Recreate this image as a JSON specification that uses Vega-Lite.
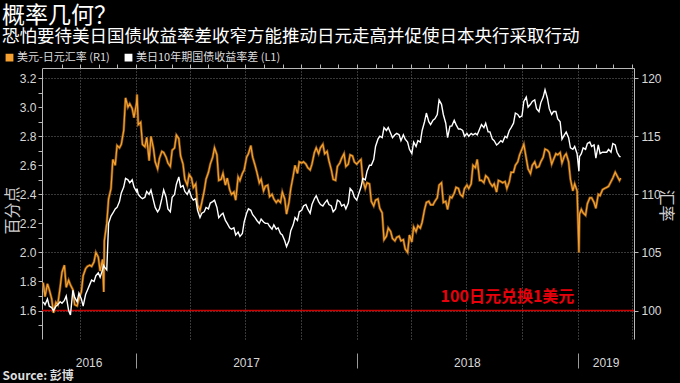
{
"$schema": "https://vega.github.io/schema/vega-lite/v6.json",
"width": 592, "height": 271,
"autosize": "none",
"padding": {"left": 42, "top": 68, "right": 46, "bottom": 44},
"background": "#000000",
"config": {"view": {"stroke": null}, "font": "Noto Sans CJK SC",
  "axis": {"labelFont": "Liberation Sans", "labelFontSize": 12, "labelColor": "#d8d8d8", "domainColor": "#b8b8b8", "tickColor": "#b8b8b8", "titleFont": "Noto Sans CJK SC", "titleColor": "#cfcfcf", "titleFontWeight": "normal"}},
"title": {"text": "概率几何？", "subtitle": "恐怕要待美日国债收益率差收窄方能推动日元走高并促使日本央行采取行动", "anchor": "start", "frame": "group", "dx": -40, "offset": 7, "color": "#ffffff", "subtitleColor": "#ffffff", "fontSize": 23, "subtitleFontSize": 17.5, "font": "Noto Sans CJK SC", "subtitleFont": "Noto Sans CJK SC", "fontWeight": "normal", "subtitleFontWeight": "normal", "subtitlePadding": 0},
"data": {"values": [
{"d":"2016-08-01","s":1.66,"r":102.4},{"d":"2016-08-04","s":1.64,"r":101.2},{"d":"2016-08-08","s":1.68,"r":102.3},{"d":"2016-08-11","s":1.63,"r":101.8},
{"d":"2016-08-15","s":1.62,"r":101.0},{"d":"2016-08-18","s":1.6,"r":99.8},{"d":"2016-08-22","s":1.63,"r":100.7},{"d":"2016-08-25","s":1.64,"r":100.5},
{"d":"2016-08-29","s":1.66,"r":102.0},{"d":"2016-09-01","s":1.65,"r":103.3},{"d":"2016-09-05","s":1.67,"r":103.9},{"d":"2016-09-08","s":1.7,"r":102.0},
{"d":"2016-09-12","s":1.6,"r":102.6},{"d":"2016-09-15","s":1.57,"r":102.2},{"d":"2016-09-19","s":1.74,"r":101.8},{"d":"2016-09-22","s":1.69,"r":100.5},
{"d":"2016-09-26","s":1.66,"r":100.4},{"d":"2016-09-29","s":1.72,"r":101.0},{"d":"2016-10-03","s":1.68,"r":101.6},{"d":"2016-10-06","s":1.63,"r":103.0},
{"d":"2016-10-10","s":1.71,"r":103.6},{"d":"2016-10-13","s":1.74,"r":103.8},{"d":"2016-10-17","s":1.78,"r":103.9},{"d":"2016-10-20","s":1.81,"r":103.8},
{"d":"2016-10-24","s":1.8,"r":104.2},{"d":"2016-10-27","s":1.84,"r":105.0},{"d":"2016-10-31","s":1.86,"r":104.6},{"d":"2016-11-03","s":1.83,"r":103.4},
{"d":"2016-11-07","s":1.88,"r":104.4},{"d":"2016-11-09","s":1.91,"r":101.6},{"d":"2016-11-10","s":1.9,"r":106.0},{"d":"2016-11-14","s":1.88,"r":107.5},
{"d":"2016-11-17","s":2.2,"r":109.6},{"d":"2016-11-21","s":2.25,"r":110.5},{"d":"2016-11-24","s":2.27,"r":113.0},{"d":"2016-11-28","s":2.3,"r":112.5},
{"d":"2016-12-01","s":2.31,"r":114.2},{"d":"2016-12-05","s":2.35,"r":114.0},{"d":"2016-12-08","s":2.41,"r":114.3},{"d":"2016-12-12","s":2.45,"r":115.5},
{"d":"2016-12-15","s":2.51,"r":118.3},{"d":"2016-12-19","s":2.5,"r":117.5},{"d":"2016-12-22","s":2.48,"r":117.8},{"d":"2016-12-26","s":2.5,"r":117.4},
{"d":"2016-12-29","s":2.45,"r":116.6},{"d":"2017-01-02","s":2.42,"r":117.8},{"d":"2017-01-03","s":2.44,"r":118.6},{"d":"2017-01-05","s":2.4,"r":116.0},
{"d":"2017-01-09","s":2.38,"r":116.2},{"d":"2017-01-12","s":2.37,"r":114.3},{"d":"2017-01-16","s":2.38,"r":114.1},{"d":"2017-01-19","s":2.42,"r":114.9},
{"d":"2017-01-23","s":2.4,"r":112.9},{"d":"2017-01-26","s":2.43,"r":115.0},{"d":"2017-01-30","s":2.36,"r":114.0},{"d":"2017-02-02","s":2.31,"r":112.8},
{"d":"2017-02-06","s":2.28,"r":112.2},{"d":"2017-02-09","s":2.3,"r":113.1},{"d":"2017-02-13","s":2.37,"r":113.7},{"d":"2017-02-16","s":2.43,"r":113.6},
{"d":"2017-02-20","s":2.38,"r":113.2},{"d":"2017-02-23","s":2.3,"r":112.7},{"d":"2017-02-27","s":2.28,"r":112.4},{"d":"2017-03-02","s":2.38,"r":113.8},
{"d":"2017-03-06","s":2.4,"r":114.0},{"d":"2017-03-09","s":2.47,"r":115.1},{"d":"2017-03-13","s":2.52,"r":114.8},{"d":"2017-03-16","s":2.45,"r":113.3},
{"d":"2017-03-20","s":2.46,"r":112.6},{"d":"2017-03-23","s":2.42,"r":111.3},{"d":"2017-03-27","s":2.4,"r":110.8},{"d":"2017-03-30","s":2.43,"r":111.7},
{"d":"2017-04-03","s":2.38,"r":111.4},{"d":"2017-04-06","s":2.36,"r":110.6},{"d":"2017-04-10","s":2.37,"r":110.9},{"d":"2017-04-13","s":2.29,"r":109.1},
{"d":"2017-04-17","s":2.24,"r":108.6},{"d":"2017-04-20","s":2.27,"r":109.3},{"d":"2017-04-24","s":2.28,"r":110.3},{"d":"2017-04-27","s":2.31,"r":111.3},
{"d":"2017-05-01","s":2.3,"r":111.9},{"d":"2017-05-04","s":2.34,"r":112.6},{"d":"2017-05-08","s":2.35,"r":113.2},{"d":"2017-05-11","s":2.36,"r":114.0},
{"d":"2017-05-15","s":2.31,"r":113.4},{"d":"2017-05-18","s":2.24,"r":111.2},{"d":"2017-05-22","s":2.26,"r":111.3},{"d":"2017-05-25","s":2.27,"r":111.8},
{"d":"2017-05-29","s":2.22,"r":110.8},{"d":"2017-06-01","s":2.2,"r":111.4},{"d":"2017-06-05","s":2.17,"r":110.4},{"d":"2017-06-08","s":2.16,"r":110.0},
{"d":"2017-06-12","s":2.17,"r":110.2},{"d":"2017-06-15","s":2.12,"r":109.5},{"d":"2017-06-19","s":2.14,"r":111.5},{"d":"2017-06-22","s":2.11,"r":111.2},
{"d":"2017-06-26","s":2.13,"r":111.8},{"d":"2017-06-29","s":2.21,"r":112.1},{"d":"2017-07-03","s":2.27,"r":113.2},{"d":"2017-07-06","s":2.3,"r":113.5},
{"d":"2017-07-10","s":2.29,"r":114.2},{"d":"2017-07-13","s":2.26,"r":113.2},{"d":"2017-07-17","s":2.24,"r":112.5},{"d":"2017-07-20","s":2.22,"r":111.9},
{"d":"2017-07-24","s":2.2,"r":111.0},{"d":"2017-07-27","s":2.23,"r":111.3},{"d":"2017-07-31","s":2.21,"r":110.3},{"d":"2017-08-03","s":2.2,"r":110.7},
{"d":"2017-08-07","s":2.2,"r":110.8},{"d":"2017-08-10","s":2.18,"r":109.8},{"d":"2017-08-14","s":2.16,"r":110.0},{"d":"2017-08-17","s":2.19,"r":109.6},
{"d":"2017-08-21","s":2.16,"r":109.3},{"d":"2017-08-24","s":2.17,"r":109.5},{"d":"2017-08-28","s":2.13,"r":109.3},{"d":"2017-08-31","s":2.12,"r":110.2},
{"d":"2017-09-04","s":2.08,"r":109.6},{"d":"2017-09-07","s":2.04,"r":108.3},{"d":"2017-09-11","s":2.08,"r":109.3},{"d":"2017-09-14","s":2.15,"r":110.5},
{"d":"2017-09-18","s":2.19,"r":111.6},{"d":"2017-09-21","s":2.24,"r":112.5},{"d":"2017-09-25","s":2.22,"r":111.8},{"d":"2017-09-28","s":2.28,"r":112.8},
{"d":"2017-10-02","s":2.29,"r":112.7},{"d":"2017-10-05","s":2.32,"r":112.8},{"d":"2017-10-09","s":2.33,"r":112.6},{"d":"2017-10-12","s":2.3,"r":112.3},
{"d":"2017-10-16","s":2.27,"r":112.1},{"d":"2017-10-19","s":2.33,"r":112.6},{"d":"2017-10-23","s":2.37,"r":113.6},{"d":"2017-10-26","s":2.39,"r":114.0},
{"d":"2017-10-30","s":2.35,"r":113.5},{"d":"2017-11-02","s":2.33,"r":114.0},{"d":"2017-11-06","s":2.32,"r":114.3},{"d":"2017-11-09","s":2.34,"r":113.5},
{"d":"2017-11-13","s":2.36,"r":113.7},{"d":"2017-11-16","s":2.33,"r":112.9},{"d":"2017-11-20","s":2.32,"r":112.1},{"d":"2017-11-23","s":2.28,"r":111.3},
{"d":"2017-11-27","s":2.3,"r":111.2},{"d":"2017-11-30","s":2.36,"r":112.4},{"d":"2017-12-04","s":2.35,"r":112.7},{"d":"2017-12-07","s":2.32,"r":113.1},
{"d":"2017-12-11","s":2.33,"r":113.5},{"d":"2017-12-14","s":2.3,"r":112.4},{"d":"2017-12-18","s":2.34,"r":112.6},{"d":"2017-12-21","s":2.44,"r":113.4},
{"d":"2017-12-25","s":2.42,"r":113.3},{"d":"2017-12-28","s":2.38,"r":112.8},{"d":"2018-01-01","s":2.36,"r":112.6},{"d":"2018-01-04","s":2.4,"r":112.8},
{"d":"2018-01-08","s":2.45,"r":113.0},{"d":"2018-01-11","s":2.51,"r":111.2},{"d":"2018-01-15","s":2.5,"r":110.5},{"d":"2018-01-18","s":2.56,"r":111.0},
{"d":"2018-01-22","s":2.6,"r":110.9},{"d":"2018-01-25","s":2.6,"r":109.4},{"d":"2018-01-29","s":2.64,"r":109.0},{"d":"2018-02-01","s":2.73,"r":109.5},
{"d":"2018-02-05","s":2.78,"r":109.6},{"d":"2018-02-08","s":2.8,"r":108.8},{"d":"2018-02-12","s":2.79,"r":108.4},{"d":"2018-02-15","s":2.86,"r":106.1},
{"d":"2018-02-19","s":2.84,"r":106.4},{"d":"2018-02-22","s":2.86,"r":107.1},{"d":"2018-02-26","s":2.82,"r":106.8},{"d":"2018-03-01","s":2.79,"r":106.2},
{"d":"2018-03-05","s":2.81,"r":106.0},{"d":"2018-03-08","s":2.82,"r":106.3},{"d":"2018-03-12","s":2.81,"r":106.4},{"d":"2018-03-15","s":2.77,"r":106.0},
{"d":"2018-03-19","s":2.81,"r":106.1},{"d":"2018-03-22","s":2.78,"r":105.3},{"d":"2018-03-26","s":2.76,"r":105.0},{"d":"2018-03-29","s":2.71,"r":106.5},
{"d":"2018-04-02","s":2.68,"r":105.9},{"d":"2018-04-05","s":2.76,"r":107.2},{"d":"2018-04-09","s":2.73,"r":106.8},{"d":"2018-04-12","s":2.77,"r":107.3},
{"d":"2018-04-16","s":2.76,"r":107.1},{"d":"2018-04-19","s":2.84,"r":107.6},{"d":"2018-04-23","s":2.9,"r":108.7},{"d":"2018-04-26","s":2.96,"r":109.3},
{"d":"2018-04-30","s":2.9,"r":109.4},{"d":"2018-05-03","s":2.88,"r":109.1},{"d":"2018-05-07","s":2.91,"r":109.1},{"d":"2018-05-10","s":2.92,"r":109.4},
{"d":"2018-05-14","s":2.95,"r":109.7},{"d":"2018-05-17","s":3.05,"r":110.8},{"d":"2018-05-21","s":3.02,"r":111.0},{"d":"2018-05-24","s":2.95,"r":109.3},
{"d":"2018-05-28","s":2.89,"r":109.4},{"d":"2018-05-31","s":2.79,"r":108.7},{"d":"2018-06-04","s":2.87,"r":109.8},{"d":"2018-06-07","s":2.87,"r":109.7},
{"d":"2018-06-11","s":2.91,"r":110.1},{"d":"2018-06-14","s":2.88,"r":110.6},{"d":"2018-06-18","s":2.85,"r":110.5},{"d":"2018-06-21","s":2.85,"r":110.0},
{"d":"2018-06-25","s":2.84,"r":109.8},{"d":"2018-06-28","s":2.8,"r":110.5},{"d":"2018-07-02","s":2.82,"r":110.8},{"d":"2018-07-05","s":2.8,"r":110.5},
{"d":"2018-07-09","s":2.82,"r":110.9},{"d":"2018-07-12","s":2.81,"r":112.5},{"d":"2018-07-16","s":2.82,"r":112.3},{"d":"2018-07-19","s":2.81,"r":113.0},
{"d":"2018-07-23","s":2.85,"r":111.2},{"d":"2018-07-26","s":2.88,"r":111.2},{"d":"2018-07-30","s":2.86,"r":111.0},{"d":"2018-08-02","s":2.89,"r":111.6},
{"d":"2018-08-06","s":2.83,"r":111.4},{"d":"2018-08-09","s":2.83,"r":111.0},{"d":"2018-08-13","s":2.78,"r":110.7},{"d":"2018-08-16","s":2.77,"r":110.9},
{"d":"2018-08-20","s":2.74,"r":110.2},{"d":"2018-08-23","s":2.75,"r":111.2},{"d":"2018-08-27","s":2.77,"r":111.1},{"d":"2018-08-30","s":2.76,"r":111.0},
{"d":"2018-09-03","s":2.8,"r":111.1},{"d":"2018-09-06","s":2.79,"r":110.5},{"d":"2018-09-10","s":2.84,"r":111.1},{"d":"2018-09-13","s":2.86,"r":111.9},
{"d":"2018-09-17","s":2.89,"r":111.9},{"d":"2018-09-20","s":2.96,"r":112.5},{"d":"2018-09-24","s":2.95,"r":112.8},{"d":"2018-09-27","s":2.93,"r":113.4},
{"d":"2018-10-01","s":2.94,"r":113.9},{"d":"2018-10-04","s":3.04,"r":114.3},{"d":"2018-10-08","s":3.07,"r":113.1},{"d":"2018-10-11","s":3.0,"r":112.2},
{"d":"2018-10-15","s":3.02,"r":111.8},{"d":"2018-10-18","s":3.04,"r":112.5},{"d":"2018-10-22","s":3.05,"r":112.8},{"d":"2018-10-25","s":2.99,"r":112.3},
{"d":"2018-10-29","s":2.97,"r":112.4},{"d":"2018-11-01","s":3.03,"r":112.8},{"d":"2018-11-05","s":3.07,"r":113.2},{"d":"2018-11-08","s":3.12,"r":113.9},
{"d":"2018-11-12","s":3.06,"r":113.8},{"d":"2018-11-15","s":2.99,"r":113.6},{"d":"2018-11-19","s":2.95,"r":112.6},{"d":"2018-11-22","s":2.97,"r":113.0},
{"d":"2018-11-26","s":2.97,"r":113.5},{"d":"2018-11-29","s":2.92,"r":113.4},{"d":"2018-12-03","s":2.9,"r":113.6},{"d":"2018-12-06","s":2.78,"r":112.7},
{"d":"2018-12-10","s":2.81,"r":113.3},{"d":"2018-12-13","s":2.83,"r":113.5},{"d":"2018-12-17","s":2.79,"r":112.8},{"d":"2018-12-20","s":2.72,"r":111.3},
{"d":"2018-12-24","s":2.71,"r":110.3},{"d":"2018-12-27","s":2.73,"r":110.9},{"d":"2018-12-31","s":2.68,"r":110.3},{"d":"2019-01-03","s":2.56,"r":105.0},
{"d":"2019-01-04","s":2.66,"r":108.3},{"d":"2019-01-07","s":2.68,"r":108.7},{"d":"2019-01-10","s":2.72,"r":108.4},{"d":"2019-01-14","s":2.71,"r":108.2},
{"d":"2019-01-17","s":2.75,"r":109.2},{"d":"2019-01-21","s":2.76,"r":109.7},{"d":"2019-01-24","s":2.73,"r":109.7},{"d":"2019-01-28","s":2.74,"r":109.3},
{"d":"2019-01-31","s":2.65,"r":108.8},{"d":"2019-02-04","s":2.74,"r":110.0},{"d":"2019-02-07","s":2.68,"r":109.9},{"d":"2019-02-11","s":2.69,"r":110.4},
{"d":"2019-02-14","s":2.69,"r":110.5},{"d":"2019-02-18","s":2.69,"r":110.6},{"d":"2019-02-21","s":2.71,"r":110.7},{"d":"2019-02-25","s":2.69,"r":111.1},
{"d":"2019-02-28","s":2.75,"r":111.4},{"d":"2019-03-04","s":2.74,"r":111.9},{"d":"2019-03-07","s":2.69,"r":111.6},{"d":"2019-03-11","s":2.66,"r":111.2},
{"d":"2019-03-13","s":2.66,"r":111.4}
]},
"layer": [
 {"layer": [
   {"data": {"values": [{}]}, "mark": {"type": "rule", "color": "#c80000", "strokeWidth": 1.5}, "encoding": {"y": {"datum": 100}}},
   {"mark": {"type": "line", "color": "#8a5412", "strokeWidth": 2.6, "opacity": 0.9},
    "encoding": {
      "x": {"field": "d", "type": "temporal"},
      "y": {"field": "r", "type": "quantitative"}}},
   {"mark": {"type": "line", "strokeWidth": 1.2},
    "encoding": {
      "x": {"field": "d", "type": "temporal", "title": null,
        "scale": {"domain": [{"year": 2016, "month": 7, "date": 30}, {"year": 2019, "month": 4, "date": 4}]},
        "axis": {"values": [{"year": 2016, "month": 10, "date": 15}, {"year": 2017, "month": 7, "date": 2}, {"year": 2018, "month": 7, "date": 2}, {"year": 2019, "month": 2, "date": 16}, {"year": 2017, "month": 1, "date": 1}, {"year": 2018, "month": 1, "date": 1}, {"year": 2019, "month": 1, "date": 1}],
          "offset": 14, "domain": false, "grid": false, "tickSize": 15, "tickColor": "#9a9a9a",
          "tickOpacity": {"condition": {"test": "month(datum.value) == 0 && date(datum.value) == 1", "value": 1}, "value": 0},
          "labelExpr": "(month(datum.value) == 0 && date(datum.value) == 1) ? '' : timeFormat(datum.value, '%Y')",
          "labelPadding": -6, "labelBaseline": "middle", "labelFontSize": 12, "labelOverlap": false, "labelFlush": false, "title": null}},
      "y": {"field": "r", "type": "quantitative", "title": "汇率",
        "scale": {"domain": [97.55, 120.875], "nice": false, "zero": false},
        "axis": {"orient": "right", "values": [97.5, 100, 102.5, 105, 107.5, 110, 112.5, 115, 117.5, 120],
          "labelExpr": "datum.value % 5 == 0 ? datum.label : ''", "grid": false, "tickSize": 4, "labelPadding": 3,
          "titleAngle": 90, "titleX": 31, "titleY": 137, "titleFontSize": 16, "titleAlign": "center", "titleBaseline": "middle"}},
      "color": {"datum": "美元-日元汇率 (R1)",
        "scale": {"domain": ["美元-日元汇率 (R1)", "美日10年期国债收益率差 (L1)"], "range": ["#f5a030", "#ffffff"]},
        "legend": {"orient": "none", "legendX": -38, "legendY": -16, "direction": "horizontal", "title": null,
          "labelFontSize": 11, "labelColor": "#dddddd", "labelFont": "Noto Sans CJK SC", "columnPadding": 12, "labelOffset": 2, "symbolSize": 40,
          "encode": {"symbols": {"update": {"fill": {"scale": "color", "field": "value"}, "stroke": {"value": "transparent"}, "shape": {"value": "square"}}}}}}}},
   {"data": {"values": [{}]}, "mark": {"type": "text", "color": "#e8000b", "font": "Noto Sans CJK SC", "fontWeight": "bold", "fontSize": 16, "align": "center", "baseline": "middle"},
    "encoding": {"x": {"datum": {"year": 2018, "month": 9, "date": 7}}, "y": {"datum": 101.15}, "text": {"value": "100日元兑换1美元"}}}
 ]},
 {"mark": {"type": "line", "strokeWidth": 1.4},
  "encoding": {
    "x": {"field": "d", "type": "temporal", "title": "Source: 彭博",
      "axis": {"values": [{"year": 2016, "month": 9, "date": 1}, {"year": 2016, "month": 10, "date": 1}, {"year": 2016, "month": 11, "date": 1}, {"year": 2016, "month": 12, "date": 1},
        {"year": 2017, "month": 1, "date": 1}, {"year": 2017, "month": 2, "date": 1}, {"year": 2017, "month": 3, "date": 1}, {"year": 2017, "month": 4, "date": 1}, {"year": 2017, "month": 5, "date": 1}, {"year": 2017, "month": 6, "date": 1}, {"year": 2017, "month": 7, "date": 1}, {"year": 2017, "month": 8, "date": 1}, {"year": 2017, "month": 9, "date": 1}, {"year": 2017, "month": 10, "date": 1}, {"year": 2017, "month": 11, "date": 1}, {"year": 2017, "month": 12, "date": 1},
        {"year": 2018, "month": 1, "date": 1}, {"year": 2018, "month": 2, "date": 1}, {"year": 2018, "month": 3, "date": 1}, {"year": 2018, "month": 4, "date": 1}, {"year": 2018, "month": 5, "date": 1}, {"year": 2018, "month": 6, "date": 1}, {"year": 2018, "month": 7, "date": 1}, {"year": 2018, "month": 8, "date": 1}, {"year": 2018, "month": 9, "date": 1}, {"year": 2018, "month": 10, "date": 1}, {"year": 2018, "month": 11, "date": 1}, {"year": 2018, "month": 12, "date": 1},
        {"year": 2019, "month": 1, "date": 1}, {"year": 2019, "month": 2, "date": 1}, {"year": 2019, "month": 3, "date": 1}, {"year": 2019, "month": 4, "date": 1}],
        "labels": false, "tickSize": 4, "grid": true, "gridColor": "#707070", "gridDash": [1, 2],
        "gridOpacity": {"condition": {"test": "month(datum.value) % 3 == 0", "value": 1}, "value": 0},
        "titleX": -40, "titleY": 311, "titleAlign": "left", "titleAnchor": "start", "titleBaseline": "alphabetic", "titleAngle": 0,
        "titleFontSize": 12, "titleFontWeight": "bold", "titleColor": "#dddddd"}},
    "y": {"field": "s", "type": "quantitative", "title": "百分点",
      "scale": {"domain": [1.404, 3.27], "nice": false, "zero": false},
      "axis": {"values": [1.4, 1.5, 1.6, 1.7, 1.8, 1.9, 2.0, 2.1, 2.2, 2.3, 2.4, 2.5, 2.6, 2.7, 2.8, 2.9, 3.0, 3.1, 3.2],
        "labelExpr": "(abs(datum.value * 5 - round(datum.value * 5)) < 0.01 && datum.value > 1.5) ? format(datum.value, '.1f') : ''",
        "tickSize": 4, "labelPadding": 2, "grid": true, "gridColor": "#707070", "gridDash": [1, 2],
        "gridOpacity": {"condition": {"test": "abs(datum.value * 2.5 - round(datum.value * 2.5)) < 0.01 && datum.value > 1.5", "value": 1}, "value": 0},
        "titleAngle": -90, "titleX": -30, "titleY": 142, "titleFontSize": 16, "titleAlign": "center", "titleBaseline": "middle"}},
    "color": {"datum": "美日10年期国债收益率差 (L1)"}}}
],
"resolve": {"scale": {"y": "independent"}, "axis": {"x": "independent"}}
}
